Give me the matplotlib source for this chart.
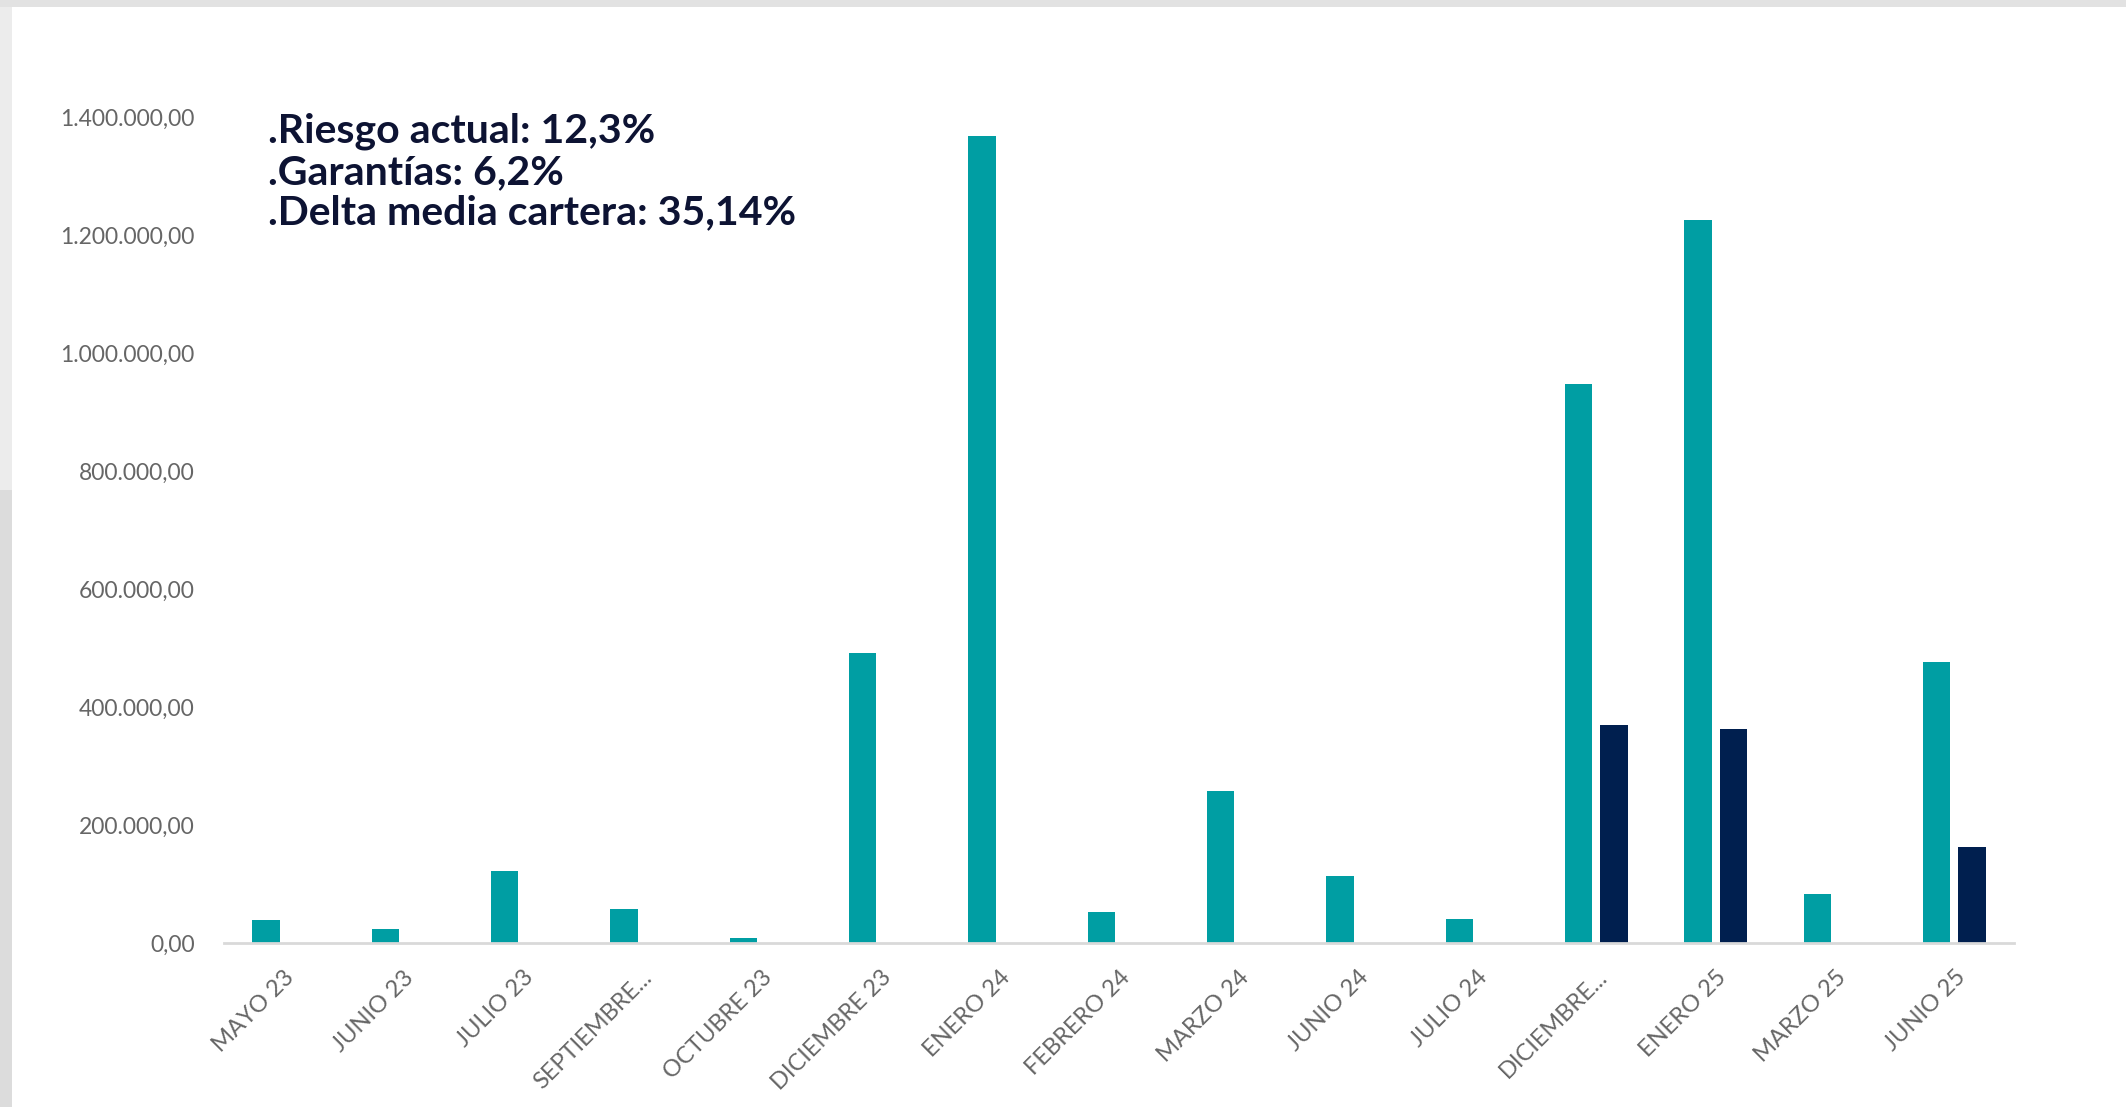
import matplotlib.pyplot as plt
import numpy as np
from matplotlib.patches import Rectangle
from matplotlib.ticker import FuncFormatter

# Data
categories = ['MAYO 23', 'JUNIO 23', 'JULIO 23', 'SEPTIEMBRE...', 'OCTUBRE 23',
              'DICIEMBRE 23', 'ENERO 24', 'FEBRERO 24', 'MARZO 24', 'JUNIO 24',
              'JULIO 24', 'DICIEMBRE...', 'ENERO 25', 'MARZO 25', 'JUNIO 25']
riesgo = [39000, 23000, 122000, 57000, 9000, 492000, 1368000, 53000, 257000,
          113000, 41000, 947000, 1225000, 83000, 476000]
garantias = [0, 0, 0, 0, 0, 0, 0, 0, 0, 0, 0, 370000, 363000, 0, 163000]
yticks = [0, 200000, 400000, 600000, 800000, 1000000, 1200000, 1400000]

note_lines = ['.Riesgo actual: 12,3%', '.Garantías: 6,2%', '.Delta media cartera: 35,14%']

teal = '#009ea3'
navy = '#001f4f'

plt.rcParams['font.family'] = ['Lato', 'DejaVu Sans']

fig = plt.figure(figsize=(21.26, 11.07), dpi=100, facecolor='white')

# Gray frame strips (screenshot border)
fig.patches.append(Rectangle((0, 1 - 7 / 1107), 1, 7 / 1107, transform=fig.transFigure,
                             facecolor='#e2e2e2', edgecolor='none', zorder=0))
fig.patches.append(Rectangle((0, 0), 12 / 2126, 1 - 490 / 1107, transform=fig.transFigure,
                             facecolor='#dcdcdc', edgecolor='none', zorder=0))
fig.patches.append(Rectangle((0, 1 - 490 / 1107), 12 / 2126, 490 / 1107 - 7 / 1107,
                             transform=fig.transFigure,
                             facecolor='#ececec', edgecolor='none', zorder=0))

ax = fig.add_axes([224 / 2126, 1 - 943 / 1107, (2014 - 224) / 2126, (943 - 117) / 1107])

x = np.arange(len(categories))
w = 0.227
off = 0.148
ax.bar(x - off, riesgo, width=w, color=teal, zorder=2)
ax.bar(x + off, garantias, width=w, color=navy, zorder=2)

ax.set_xlim(-0.5, len(categories) - 0.5)
ax.set_ylim(0, 1400000)
ax.set_yticks(yticks)
ax.yaxis.set_major_formatter(FuncFormatter(
    lambda v, p: '{:,.2f}'.format(v).replace(',', 'X').replace('.', ',').replace('X', '.')))
ax.set_xticks(x)
ax.set_xticklabels(categories, rotation=45, ha='right', rotation_mode='anchor')

for s in ['top', 'right', 'left']:
    ax.spines[s].set_visible(False)
ax.spines['bottom'].set_color('#d9d9d9')
ax.spines['bottom'].set_linewidth(2)
ax.tick_params(axis='both', length=0, colors='#666666')
ax.tick_params(axis='y', pad=21, labelsize=16.5)
ax.tick_params(axis='x', pad=17, labelsize=17)

fig.text(268 / 2126, 1 - 172 / 1107, '\n'.join(note_lines), fontsize=29.5, fontweight='bold',
         color='#0d1333', ha='left', va='center', linespacing=1.12)

plt.savefig('out.png', dpi=100, facecolor='white')
